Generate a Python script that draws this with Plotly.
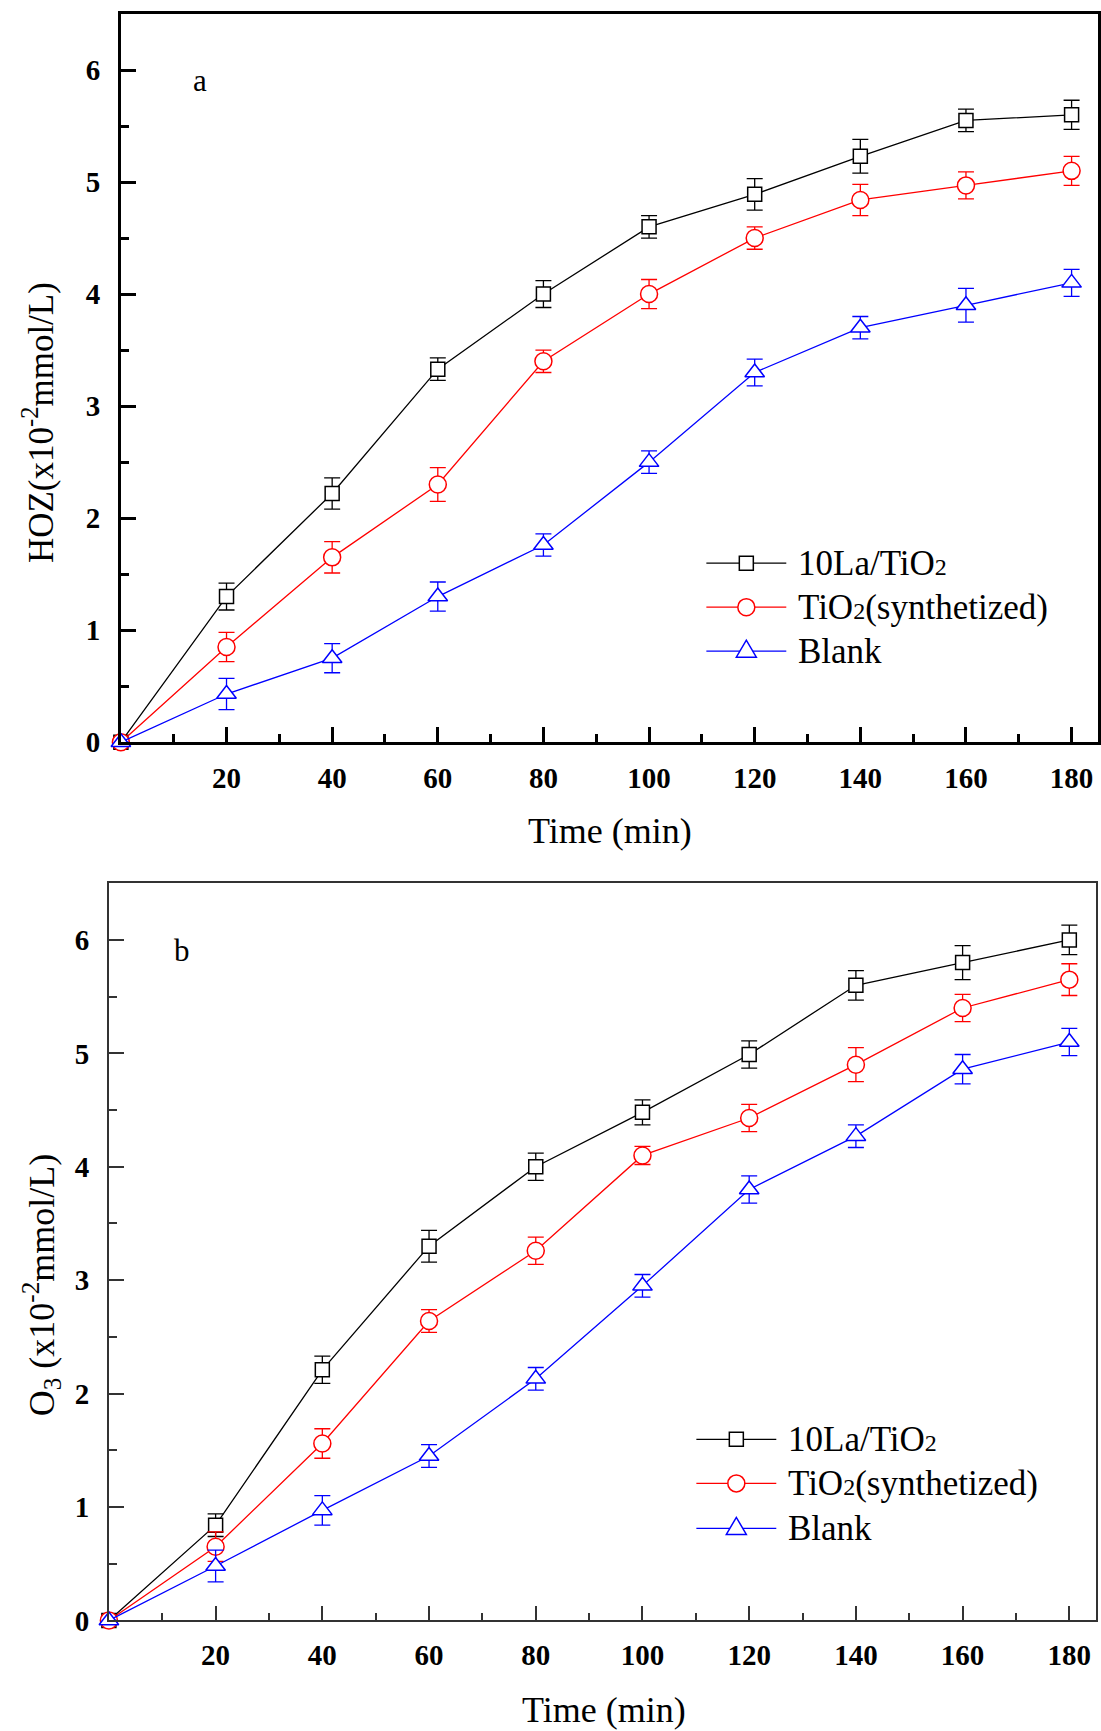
import plotly.graph_objects as go

W, H = 1101, 1731

time = [0, 20, 40, 60, 80, 100, 120, 140, 160, 180]

# Panel a: HOZ
a_la = [0, 1.30, 2.22, 3.33, 4.00, 4.60, 4.89, 5.23, 5.55, 5.60]
a_la_err = [0, 0.12, 0.14, 0.10, 0.12, 0.10, 0.14, 0.15, 0.10, 0.13]
a_ti = [0, 0.85, 1.65, 2.30, 3.40, 4.00, 4.50, 4.84, 4.97, 5.10]
a_ti_err = [0, 0.13, 0.14, 0.15, 0.10, 0.13, 0.10, 0.14, 0.12, 0.13]
a_bl = [0, 0.43, 0.75, 1.30, 1.76, 2.50, 3.30, 3.70, 3.90, 4.10]
a_bl_err = [0, 0.14, 0.13, 0.13, 0.10, 0.10, 0.12, 0.10, 0.15, 0.12]

# Panel b: O3
b_la = [0, 0.84, 2.21, 3.30, 4.00, 4.48, 4.99, 5.60, 5.80, 6.00]
b_la_err = [0, 0.10, 0.12, 0.14, 0.12, 0.11, 0.12, 0.13, 0.15, 0.13]
b_ti = [0, 0.65, 1.56, 2.64, 3.26, 4.10, 4.43, 4.90, 5.40, 5.65]
b_ti_err = [0, 0.13, 0.13, 0.10, 0.12, 0.08, 0.12, 0.15, 0.12, 0.14]
b_bl = [0, 0.48, 0.97, 1.45, 2.13, 2.95, 3.80, 4.27, 4.86, 5.10]
b_bl_err = [0, 0.14, 0.13, 0.10, 0.10, 0.10, 0.12, 0.10, 0.13, 0.12]

x_ticks = [20, 40, 60, 80, 100, 120, 140, 160, 180]
y_ticks = [0, 1, 2, 3, 4, 5, 6]
series_names = ["10La/TiO<span style='font-size:24px'>2</span>",
                "TiO<span style='font-size:24px'>2</span>(synthetized)",
                "Blank"]
colors = ["#000000", "#ff0000", "#0000ff"]
symbols = ["square", "circle", "triangle-up"]
sizes = [14, 17, 17]

FONT = "Liberation Serif, Times New Roman, serif"

fig = go.Figure()

panels = [
    ("x", "y", [a_la, a_ti, a_bl], [a_la_err, a_ti_err, a_bl_err]),
    ("x2", "y2", [b_la, b_ti, b_bl], [b_la_err, b_ti_err, b_bl_err]),
]
for xa, ya, ys, errs in panels:
    for i in range(3):
        fig.add_trace(go.Scatter(
            x=time, y=ys[i], xaxis=xa, yaxis=ya, mode="lines+markers",
            line=dict(color=colors[i], width=1.3),
            marker=dict(symbol=symbols[i], size=sizes[i], color="white",
                        line=dict(color=colors[i], width=1.5)),
            error_y=dict(type="data", array=errs[i], width=8, thickness=1.3,
                         color=colors[i]),
            cliponaxis=False, showlegend=False))

VSCALE = 0.9905  # observed vertical compression of the rendered page

def px_x(p):
    return p / W

def px_y(p):
    return 1 - p / (H * VSCALE)

def xaxis_cfg(domain, anchor, lw, col):
    return dict(domain=domain, anchor=anchor, range=[0, 185],
                tickvals=x_ticks, ticks="inside", ticklen=15, tickwidth=lw,
                tickcolor=col, showline=True, linecolor=col, linewidth=lw,
                mirror=True, showgrid=False, zeroline=False,
                tickfont=dict(family=FONT, size=29, color="black", weight="bold"),
                minor=dict(dtick=10, tick0=0, ticks="inside", ticklen=8,
                           tickwidth=lw, tickcolor=col, showgrid=False),
                ticklabelstandoff=8)

def yaxis_cfg(domain, anchor, lw, col):
    return dict(domain=domain, anchor=anchor, range=[0, 6.5],
                tickvals=y_ticks, ticks="inside", ticklen=15, tickwidth=lw,
                tickcolor=col, showline=True, linecolor=col, linewidth=lw,
                mirror=True, showgrid=False, zeroline=False,
                tickfont=dict(family=FONT, size=29, color="black", weight="bold"),
                minor=dict(dtick=0.5, tick0=0, ticks="inside", ticklen=8,
                           tickwidth=lw, tickcolor=col, showgrid=False),
                ticklabelstandoff=12)

fig.update_layout(
    width=W, height=H, autosize=False, margin=dict(l=0, r=0, t=0, b=0),
    paper_bgcolor="white", plot_bgcolor="white",
    font=dict(family=FONT, color="black"),
    xaxis=xaxis_cfg([px_x(121), px_x(1099)], "y", 2.5, "black"),
    yaxis=yaxis_cfg([px_y(742), px_y(14)], "x", 2.5, "black"),
    xaxis2=xaxis_cfg([px_x(109), px_x(1097)], "y2", 1.5, "#333333"),
    yaxis2=yaxis_cfg([px_y(1620), px_y(883)], "x2", 1.5, "#333333"),
)

def note(text, x, y, size, angle=0, xanchor="center"):
    return dict(text=text, x=px_x(x), y=px_y(y), xref="paper", yref="paper",
                xanchor=xanchor, yanchor="middle", showarrow=False,
                textangle=angle, font=dict(size=size, family=FONT, color="black"))

ann = [
    note("Time (min)", 611, 831, 36),
    note("Time (min)", 605, 1710, 36),
    note("HOZ(x10<sup>-2</sup>mmol/L)", 38, 422, 35, -90),
    note("O<sub>3</sub> (x10<sup>-2</sup>mmol/L)", 42, 1284, 36, -90),
    note("a", 200, 80, 31),
    note("b", 182, 950, 31),
]

shapes = []
legends = [
    (707, 787, 797, [563, 607, 651]),
    (697, 777, 787, [1439, 1483, 1528]),
]
for x0, x1, xt, rows in legends:
    for i, yy in enumerate(rows):
        shapes.append(dict(type="line", xref="paper", yref="paper",
                           x0=px_x(x0), x1=px_x(x1), y0=px_y(yy), y1=px_y(yy),
                           line=dict(color=colors[i], width=1.3)))
        xc = px_x((x0 + x1) / 2)
        yc = px_y(yy)
        if symbols[i] == "square":
            shapes.append(dict(type="rect", xref="paper", yref="paper",
                               xsizemode="pixel", ysizemode="pixel", xanchor=xc, yanchor=yc,
                               x0=-7, x1=7, y0=-7, y1=7, fillcolor="white",
                               line=dict(color=colors[i], width=1.5)))
        elif symbols[i] == "circle":
            shapes.append(dict(type="circle", xref="paper", yref="paper",
                               xsizemode="pixel", ysizemode="pixel", xanchor=xc, yanchor=yc,
                               x0=-8.5, x1=8.5, y0=-8.5, y1=8.5, fillcolor="white",
                               line=dict(color=colors[i], width=1.5)))
        else:
            shapes.append(dict(type="path", xref="paper", yref="paper",
                               xsizemode="pixel", ysizemode="pixel", xanchor=xc, yanchor=yc,
                               path="M-10,-6 L10,-6 L0,11 Z", fillcolor="white",
                               line=dict(color=colors[i], width=1.5)))
        ann.append(note(series_names[i], xt, yy, 35, xanchor="left"))

fig.update_layout(annotations=ann, shapes=shapes)
fig.write_html("out.html", config={"responsive": False, "displayModeBar": False})

with open("out.html", "r", encoding="utf-8") as f:
    html = f.read()
html = html.replace("<head>", "<head><style>html,body{margin:0;padding:0;overflow:hidden;}</style>", 1)
with open("out.html", "w", encoding="utf-8") as f:
    f.write(html)
